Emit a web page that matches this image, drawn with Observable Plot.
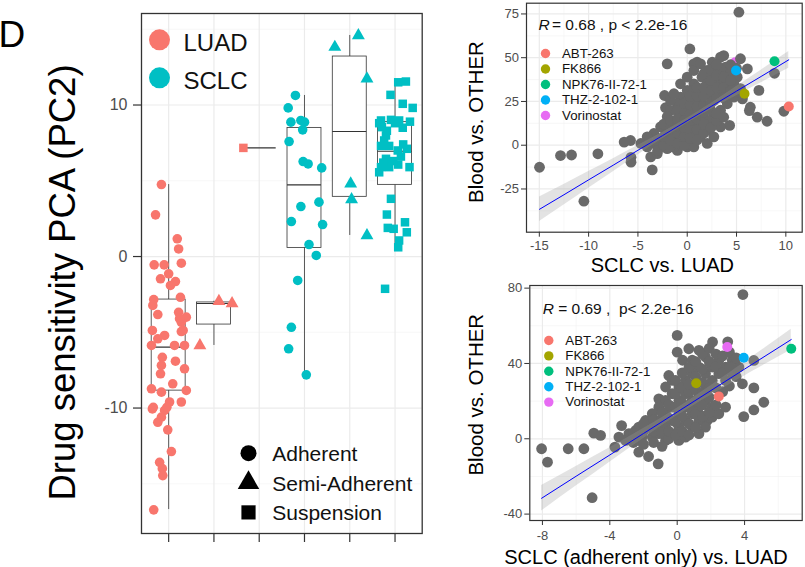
<!DOCTYPE html>
<html><head><meta charset="utf-8">
<script src="https://cdn.jsdelivr.net/npm/d3@7"></script>
<script src="https://cdn.jsdelivr.net/npm/@observablehq/plot@0.6"></script>
<style>
body{margin:0;background:#fff;}
#root{position:relative;width:805px;height:567px;overflow:hidden;background:#fff;}
</style></head><body><div id="root"></div>
<script>
// ---------- Left panel data ----------
const groups = ["LUAD Adherent","LUAD Semi-Adherent","LUAD Suspension","SCLC Adherent","SCLC Semi-Adherent","SCLC Suspension"];
const groupCancer = ["LUAD","LUAD","LUAD","SCLC","SCLC","SCLC"];
const groupGrowth = ["Adherent","Semi-Adherent","Suspension","Adherent","Semi-Adherent","Suspension"];
const cancerTypes = ["LUAD","SCLC"];
const cancerColors = ["#F8766D","#00BFC4"];
const growthTypes = ["Adherent","Semi-Adherent","Suspension"];
const growthSymbols = ["circle","triangle","square"];
const yTicksLeft = [-10,0,10];
const yMinorLeft = [-15,-5,5,15];

// [jitter (category units), PC2]
const luadAdherent = [[-0.16,4.75],[-0.29,2.75],[0.19,1.17],[0.22,0.5],[-0.32,-0.55],[-0.10,-0.55],[0.28,-0.44],[0.0,-1.14],[-0.18,-1.47],[0.15,-1.65],[0.04,-1.91],[-0.33,-2.84],[0.26,-2.69],[-0.35,-3.23],[-0.24,-3.83],[0.22,-3.68],[0.39,-4.0],[0.28,-4.34],[0.24,-4.1],[-0.36,-4.88],[0.28,-4.95],[-0.09,-5.21],[-0.24,-5.43],[-0.38,-5.87],[0.13,-5.87],[0.35,-5.87],[-0.14,-6.65],[0.15,-6.91],[0.35,-7.41],[-0.16,-7.19],[-0.18,-7.74],[0.09,-8.4],[-0.38,-8.73],[-0.16,-8.95],[0.39,-8.84],[0.02,-9.6],[0.28,-9.6],[-0.36,-10.06],[-0.09,-10.16],[-0.16,-10.6],[-0.24,-10.94],[-0.02,-11.44],[0.06,-12.87],[-0.20,-13.58],[-0.14,-14.0],[-0.13,-14.46],[-0.33,-16.72],[-0.34,-9.95],[-0.04,-9.95],[0.32,-4.88]];
const luadSemi = [[0.11,-2.95],[0.40,-3.1],[-0.31,-5.87]];
const luadSuspension = [[-0.35,7.17]];
const sclcAdherent = [[-0.20,10.63],[-0.36,9.81],[-0.30,8.87],[-0.08,8.98],[0.0,8.87],[-0.04,8.36],[-0.34,7.59],[-0.03,6.27],[0.08,6.11],[0.38,5.85],[-0.08,3.3],[0.32,3.59],[-0.29,2.31],[0.40,2.11],[0.10,0.79],[0.26,0.07],[-0.15,-1.58],[-0.29,-4.67],[-0.35,-6.09],[0.04,-7.81]];
const sclcSemi = [[0.19,14.59],[-0.33,13.82],[0.38,11.73],[0.02,4.8],[0.04,3.76],[0.38,1.39]];
const sclcSuspension = [[0.07,11.5],[0.24,11.55],[-0.10,10.67],[0.17,10.08],[0.39,9.81],[-0.31,8.98],[-0.09,9.02],[0.09,8.98],[-0.29,8.54],[0.17,8.5],[-0.20,7.99],[-0.24,7.66],[0.06,7.0],[0.26,7.11],[-0.20,6.45],[0.07,6.07],[-0.31,5.9],[-0.13,5.9],[0.32,5.9],[-0.35,5.56],[-0.09,3.81],[-0.18,2.77],[0.22,2.26],[-0.16,1.89],[-0.03,1.83],[0.26,1.6],[0.09,1.06],[0.07,0.61],[-0.22,-2.13],[-0.35,8.8],[-0.18,8.3],[0.0,8.8],[-0.31,7.3],[0.18,7.4],[-0.26,6.2],[-0.04,6.3],[0.13,6.6],[0.33,8.9],[-0.13,7.3]];

// box statistics per group
const boxLow    = [-16.7, -5.87, 7.17, -7.81, 1.39, 0.61];
const boxQ1     = [-8.85, -4.49, 7.17, 0.57, 3.94, 4.73];
const boxMedian = [-5.98, -3.10, 7.17, 4.73, 8.25, 6.95];
const boxQ3     = [-2.84, -3.03, 7.17, 8.49, 13.2, 8.87];
const boxHigh   = [4.75, -2.95, 7.17, 10.63, 14.59, 11.55];

// ---------- Right panels data ----------
const drugs = ["ABT-263","FK866","NPK76-II-72-1","THZ-2-102-1","Vorinostat"];
const drugColors = ["#F8766D","#A3A500","#00BF7D","#00B0F6","#E76BF3"];

const topGray = [[5.24,76],[-14.98,-12.6],[-12.85,-5.9],[-11.73,-5.6],[-9.06,-4.9],[-10.48,-32],[-5.75,2.7],[-6.4,1.8],[-5.7,-6.9],[-5.7,-9.7],[-3.55,-14.1],[-3.7,-6.7],[-2.03,46.5],[-2.2,21.4],[-2.3,28.4],[0.27,55],[3.7,51.2],[9.8,19.4],[8.85,41.1],[8.1,13.7],[7.1,16],[7.27,31.3],[6.4,21.7],[6.3,19.8],[4.3,11.3],[5.6,26.5],[6.1,43.6],[5.4,49.4],[1.0,47.4],[0.67,46.5],
[2.03,42.7],[2.54,47.4],[3.38,50.3],[3.89,44.6],[4.4,41.7],[5.07,38.9],[3.38,37],[2.7,35.1],[1.5,38.9],[0.67,35.1],[0,31.3],[-0.68,27.5],[-1.0,23.7],[-1.7,19.9],[-2.03,16.2],[-2.7,10.5],[-3.38,6.7],[-4.06,4.8],[-4.7,1.0],[-2.7,-1.0],[-2.03,-2],[-1.0,-3],[0,-1.0],[0.67,2.9],[1.35,4.8],[2.03,8.6],[2.37,12.4],[2.7,16.2],[3.38,20],[4.06,23.7],[4.73,27.5],[5.4,32.3],[4.73,35.1],
[-0.68,18],[0,16.2],[0.67,20],[1.35,25.6],[2.03,29.4],[2.7,25.6],[2.03,21.8],[1.35,16.2],[0.67,12.4],[0,8.6],[-0.68,6.7],[-1.35,4.8],[-2.03,6.7],[-1.35,10.5],[-0.68,12.4],[0,21.8],[0.67,25.6],[1.35,31.3],[2.03,35.1],[2.7,38.9],[3.38,42.7],[4.06,35.1],[3.38,29.4],[4.06,29.4],[1.35,10.5],[0.67,6.7],[0,2.9],[-0.68,1.0],[-1.35,-1],[-2.03,2.9],[-3.38,1.0],[-4.06,-1],[-3.04,-4.8],[0.67,-1],[2.03,1.0],[2.7,4.8],[3.38,10.5],[2.03,14.3],[0,25.6],[-1.0,19.9],[-1.7,25.6],[-1.35,29.4],[-0.68,35.1],[0,38.9],[0.67,42.7],[1.35,46.5],[0.67,31.3],
[-3.0,-3],[-3.0,3],[-2.4,0],[-2.4,5],[-2.4,12],[-1.7,-1],[-1.7,3],[-1.7,9],[-1.7,14],[-1.0,1],[-1.0,7],[-1.0,11],[-1.0,15],[-0.3,0],[-0.3,5],[-0.3,10],[-0.3,14],[-0.3,20],[-0.3,24],[0.3,4],[0.3,10],[0.3,14],[0.3,18],[0.3,23],[0.3,28],[1.0,3],[1.0,9],[1.0,15],[1.0,18],[1.0,22],[1.0,28],[1.0,33],[1.7,7],[1.7,12],[1.7,19],[1.7,23],[1.7,28],[1.7,33],[1.7,41],[2.4,10],[2.4,20],[2.4,24],[2.4,31],[2.4,37],[2.4,43],[3.0,14],[3.0,18],[3.0,27],[3.0,33],[3.0,40],[3.0,46],[3.7,16],[3.7,27],[3.7,33],[3.7,39],[4.4,31],[4.4,37],[4.4,46],[5.0,30],[5.0,44]];
const topHighlightX = [10.3, 5.81, 8.85, 4.95, 4.85];
const topHighlightY = [22.1, 29.4, 48.0, 42.7, 47.4];
// fitted line and 95% band, read at sample x positions
const topFitX    = [-14.98, -12.5, -10, -7.5, -5, -2.5, 0, 2.5, 5, 7.5, 10.3];
const topFitY    = [-36.6, -28.3, -19.8, -11.4, -2.9, 5.5, 14.0, 22.4, 30.9, 39.3, 48.8];
const topFitLow  = [-43.6, -34.2, -24.6, -15.1, -5.6, 3.7, 12.6, 20.7, 28.3, 35.7, 44.0];
const topFitHigh = [-29.6, -22.4, -15.0, -7.7, -0.2, 7.3, 15.4, 24.1, 33.5, 42.9, 53.6];

const bottomGray = [[3.9,76.6],[-8.05,-5.3],[-7.7,-12.4],[-6.47,-5.3],[-5.54,-5.3],[-4.95,3],[-4.55,1.8],[-3.7,-4.4],[-3.3,7],[-5.05,-31.3],[-2.28,-7.1],[-1.7,-9.4],[-1.13,-13.3],[0,54.9],[-0.5,33.6],[-1.09,21.2],[0,46],[0.69,47.8],[5.14,19.4],[4.55,15.3],[4.55,27],[3.87,29.2],[3.95,11.8],[2.1,51.4],[4.55,41.6],[1.78,9.7],
[-2.87,2.7],[-2.47,4.4],[-2.08,0.9],[-1.68,6.2],[-1.48,0.9],[-1.09,8.0],[-1.09,2.7],[-0.69,13.3],[-0.69,6.2],[-0.69,-0.9],[-0.3,9.7],[-0.3,2.7],[-0.3,16.8],[0.1,13.3],[0.1,6.2],[0.1,20.4],[0.1,-0.9],[0.49,16.8],[0.49,9.7],[0.49,23.9],[0.89,20.4],[0.89,13.3],[0.89,6.2],[1.29,16.8],[1.29,23.9],[1.29,9.7],[1.68,20.4],[1.68,27.5],[1.68,34.6],[2.08,31.0],[2.08,38.1],[2.08,16.8],[2.47,34.6],[2.47,41.7],[2.87,38.1],[2.87,31.0],[3.27,41.7],[3.27,34.6],[3.66,38.1],[1.29,38.1],[0.89,34.6],[0.49,31.0],[0.1,27.5],[-0.3,23.9],[-0.69,20.4],[-1.09,16.8],[-1.48,13.3],[-1.88,9.7],[-2.28,6.2],[-0.3,31.0],[-0.69,27.5],[0.32,41.7],[0.89,41.7],[1.68,43.4],[1.29,47],[3.0,51.5],[2.08,11.5],[1.68,6.2],[2.47,13.3],[2.87,16.8],[1.29,2.7],[0.49,0.9],[-2.28,-0.9],[-3.06,-0.9],[-3.46,0.9],
[-2.6,-2],[-2.6,3],[-2.0,-3],[-2.0,4],[-2.0,8],[-1.4,-2],[-1.4,4],[-1.4,10],[-0.9,-4],[-0.9,3],[-0.9,11],[-0.9,14],[-0.5,0],[-0.5,4],[-0.5,11],[-0.5,18],[-0.1,2],[-0.1,9],[-0.1,17],[-0.1,24],[-0.1,31],[0.3,4],[0.3,12],[0.3,19],[0.3,27],[0.3,35],[0.7,2],[0.7,8],[0.7,17],[0.7,25],[0.7,29],[0.7,38],[1.1,6],[1.1,13],[1.1,20],[1.1,26],[1.1,33],[1.1,41],[1.5,12],[1.5,18],[1.5,24],[1.5,30],[1.5,37],[1.5,45],[1.9,14],[1.9,22],[1.9,27],[1.9,41],[1.9,48],[2.3,18],[2.3,27],[2.3,38],[2.3,45],[2.7,25],[2.7,35],[2.7,44],[3.1,28],[3.1,38],[3.1,46],[3.5,33],[3.5,43]];
const bottomHighlightX = [2.47, 1.13, 6.77, 3.95, 2.97];
const bottomHighlightY = [22.5, 29.5, 47.8, 43.0, 48.7];
const bottomFitX    = [-8.05, -6, -4, -2, 0, 2, 4, 6.77];
const bottomFitY    = [-31.6, -19.9, -8.6, 2.8, 14.2, 25.6, 37.0, 52.7];
const bottomFitLow  = [-38.4, -25.1, -12.4, 0.2, 12.2, 23.1, 33.4, 47.2];
const bottomFitHigh = [-24.8, -14.7, -4.8, 5.4, 16.2, 28.1, 40.6, 58.2];

const topXTicks = [-15,-10,-5,0,5,10], topXMinor = [-12.5,-7.5,-2.5,2.5,7.5];
const topYTicks = [-25,0,25,50,75], topYMinor = [-37.5,-12.5,12.5,37.5,62.5];
const botXTicks = [-8,-4,0,4], botXMinor = [-6,-2,2,6];
const botYTicks = [-40,0,40,80], botYMinor = [-20,20,60];

// ---------- helpers ----------
const FONT = "'Liberation Sans', Arial, Helvetica, sans-serif";
const root = document.getElementById("root");
function place(svg, left, top) {
  svg.style.position = "absolute";
  svg.style.left = left + "px";
  svg.style.top = top + "px";
  svg.style.maxWidth = "none";
  svg.style.background = "transparent";
  root.appendChild(svg);
}
const GRID_MAJOR = {stroke: "#EBEBEB", strokeOpacity: 1, strokeWidth: 1.2};
const GRID_MINOR = {stroke: "#F2F2F2", strokeOpacity: 1, strokeWidth: 0.6};
const TICKCOL = "#4D4D4D";

// ---------- Left panel ----------
const groupPoints = [luadAdherent, luadSemi, luadSuspension, sclcAdherent, sclcSemi, sclcSuspension];
const points = groupPoints.flatMap((arr, i) => arr.map(([j, v]) => ({x: i + 1 + j, y: v, cancer: groupCancer[i], growth: groupGrowth[i]})));
const boxes = groups.map((g, i) => ({x: i + 1, lo: boxLow[i], q1: boxQ1[i], med: boxMedian[i], q3: boxQ3[i], hi: boxHigh[i]}));
const cats = groups.map((g, i) => i + 1);
const BW = 0.375;

const left = Plot.plot({
  width: 430, height: 567,
  marginLeft: 141, marginRight: 8.3, marginTop: 13, marginBottom: 34,
  x: {domain: [0.4, 6.6], axis: null},
  y: {domain: [-18.28, 16.04], axis: null},
  color: {domain: cancerTypes, range: cancerColors},
  symbol: {domain: growthTypes, range: growthSymbols},
  style: {fontFamily: FONT, background: "transparent", overflow: "visible"},
  marks: [
    Plot.gridY(yMinorLeft, GRID_MINOR),
    Plot.gridY(yTicksLeft, GRID_MAJOR),
    Plot.gridX(cats, GRID_MAJOR),
    Plot.axisY(yTicksLeft, {tickSize: 8, tickPadding: 6, fontSize: 16, fill: TICKCOL, stroke: "#333", strokeWidth: 1.2, tickFormat: d => String(d), label: null}),
    Plot.axisX(cats, {tickSize: 9, tickFormat: () => "", stroke: "#333", strokeWidth: 1.2, label: null}),
    Plot.ruleX(boxes, {x: "x", y1: "lo", y2: "q1", stroke: "#333", strokeWidth: 0.8}),
    Plot.ruleX(boxes, {x: "x", y1: "q3", y2: "hi", stroke: "#333", strokeWidth: 0.8}),
    Plot.rect(boxes, {x1: d => d.x - BW, x2: d => d.x + BW, y1: "q1", y2: "q3", fill: "white", stroke: "#333", strokeWidth: 0.8}),
    Plot.ruleY(boxes, {x1: d => d.x - BW, x2: d => d.x + BW, y: "med", stroke: "#333", strokeWidth: 1.1}),
    Plot.dot(points, {x: "x", y: "y", fill: "cancer", symbol: "growth", r: 4.8}),
    Plot.frame({stroke: "#333", strokeWidth: 1.3}),
    Plot.text(["D"], {frameAnchor: "top-left", dx: -143, dy: 33.7, lineAnchor: "bottom", textAnchor: "start", fontSize: 37, fill: "#000"}),
    Plot.text(["Drug sensitivity PCA (PC2)"], {frameAnchor: "left", rotate: -90, dx: -67, dy: 9, lineAnchor: "bottom", textAnchor: "middle", fontSize: 36.5, fill: "#000"}),
    ...cancerTypes.map((c, i) => Plot.dot([c], {frameAnchor: "top-left", dx: 18, dy: 26.3 + i * 38, r: 10.5, fill: d => d})),
    ...cancerTypes.map((c, i) => Plot.text([c], {frameAnchor: "top-left", dx: 42, dy: 37 + i * 38, lineAnchor: "bottom", textAnchor: "start", fontSize: 24, fill: "#111"})),
    ...growthTypes.map((g, i) => Plot.dot([g], {frameAnchor: "top-left", dx: 107, dy: 439.7 + i * 29.6, r: 8, symbol: d => d, fill: "#000"})),
    ...growthTypes.map((g, i) => Plot.text([g], {frameAnchor: "top-left", dx: 130.7, dy: 447.7 + i * 29.3, lineAnchor: "bottom", textAnchor: "start", fontSize: 21, fill: "#111"}))
  ]
});
place(left, 0, 0);

// ---------- Scatter panels ----------
function scatter(cfg) {
  const gray = cfg.gray.map(([x, y]) => ({x, y}));
  const hi = drugs.map((d, i) => ({x: cfg.hx[i], y: cfg.hy[i], drug: d}));
  const under = hi.filter(d => cfg.covered.includes(d.drug));
  const over = hi.filter(d => !cfg.covered.includes(d.drug));
  const fit = cfg.fitX.map((x, i) => ({x, y: cfg.fitY[i], lo: cfg.fitLow[i], hi: cfg.fitHigh[i]}));
  return Plot.plot({
    width: cfg.width, height: cfg.height,
    marginLeft: cfg.ml, marginRight: cfg.mr, marginTop: cfg.mt, marginBottom: cfg.mb,
    x: {domain: cfg.xd, axis: null},
    y: {domain: cfg.yd, axis: null},
    color: {domain: drugs, range: drugColors},
    style: {fontFamily: FONT, background: "transparent", overflow: "visible"},
    marks: [
      Plot.gridX(cfg.xMinor, GRID_MINOR),
      Plot.gridY(cfg.yMinor, GRID_MINOR),
      Plot.gridX(cfg.xTicks, GRID_MAJOR),
      Plot.gridY(cfg.yTicks, GRID_MAJOR),
      Plot.axisY(cfg.yTicks, {tickSize: 5, tickPadding: 2.5, fontSize: 13, fill: TICKCOL, stroke: "#333", tickFormat: d => String(d), label: null}),
      Plot.axisX(cfg.xTicks, {tickSize: 5, tickPadding: cfg.xPad, fontSize: 13, fill: TICKCOL, stroke: "#333", tickFormat: d => String(d), label: null}),
      Plot.dot(under, {x: "x", y: "y", fill: "drug", r: 5}),
      Plot.dot(gray, {x: "x", y: "y", fill: "#696969", r: 5.4}),
      Plot.areaY(fit, {x: "x", y1: "lo", y2: "hi", fill: "#9A9A9A", fillOpacity: 0.28, curve: "natural"}),
      Plot.line(fit, {x: "x", y: "y", stroke: "#0000FF", strokeWidth: 1}),
      Plot.dot(over, {x: "x", y: "y", fill: "drug", r: 5}),
      Plot.frame({stroke: "#333", strokeWidth: 1.2}),
      Plot.text(["R"], {frameAnchor: "top-left", dx: cfg.rdx, dy: cfg.rdy, lineAnchor: "bottom", textAnchor: "start", fontSize: 15.5, fontStyle: "italic", fill: "#111"}),
      Plot.text([cfg.stat], {frameAnchor: "top-left", dx: cfg.rdx + cfg.eqOffset, dy: cfg.rdy, lineAnchor: "bottom", textAnchor: "start", fontSize: 15.5, fill: "#111"}),
      ...drugs.map((d, i) => Plot.dot([d], {frameAnchor: "top-left", dx: cfg.ldx, dy: cfg.ldy + i * cfg.lstep, r: 4.7, fill: v => v})),
      ...drugs.map((d, i) => Plot.text([d], {frameAnchor: "top-left", dx: cfg.ldx + 16.5, dy: cfg.ldy + i * cfg.lstep, lineAnchor: "middle", textAnchor: "start", fontSize: 13.3, fill: "#111"})),
      Plot.text([cfg.xLabel], {frameAnchor: "bottom", dx: cfg.xlDx, dy: cfg.xlDy, lineAnchor: "bottom", textAnchor: "middle", fontSize: 20, fill: "#000"}),
      Plot.text([cfg.yLabel], {frameAnchor: "left", rotate: -90, dx: cfg.ylDx, dy: cfg.ylDy, lineAnchor: "bottom", textAnchor: "middle", fontSize: 20.5, fill: "#000"})
    ]
  });
}

const topPanel = scatter({
  width: 365, height: 280, ml: 86, mr: 3.3, mt: 2.7, mb: 48.3,
  xd: [-16.3, 11.66], yd: [-49.7, 81.14],
  xTicks: topXTicks, xMinor: topXMinor, yTicks: topYTicks, yMinor: topYMinor, xPad: 4,
  gray: topGray, hx: topHighlightX, hy: topHighlightY, covered: ["Vorinostat"],
  fitX: topFitX, fitY: topFitY, fitLow: topFitLow, fitHigh: topFitHigh,
  stat: "= 0.68 , p < 2.2e-16", rdx: 12, rdy: 26.6, eqOffset: 13.5,
  ldx: 19, ldy: 50.3, lstep: 15.5,
  xLabel: "SCLC vs. LUAD", xlDx: -2, xlDy: 39.8,
  yLabel: "Blood vs. OTHER", ylDx: -43.3, ylDy: 4.3
});
place(topPanel, 440, 0);

const bottomPanel = scatter({
  width: 365, height: 287, ml: 89.3, mr: 3.3, mt: 5, mb: 47,
  xd: [-8.75, 7.42], yd: [-43.4, 81.4],
  xTicks: botXTicks, xMinor: botXMinor, yTicks: botYTicks, yMinor: botYMinor, xPad: 5,
  gray: bottomGray, hx: bottomHighlightX, hy: bottomHighlightY, covered: [],
  fitX: bottomFitX, fitY: bottomFitY, fitLow: bottomFitLow, fitHigh: bottomFitHigh,
  stat: "= 0.69 ,\u00A0\u00A0p< 2.2e-16", rdx: 13, rdy: 28.3, eqOffset: 15.4,
  ldx: 19, ldy: 55, lstep: 15.4,
  xLabel: "SCLC (adherent only) vs. LUAD", xlDx: -20, xlDy: 43,
  yLabel: "Blood vs. OTHER", ylDx: -46.6, ylDy: -8.3
});
place(bottomPanel, 440, 280);
</script></body></html>
